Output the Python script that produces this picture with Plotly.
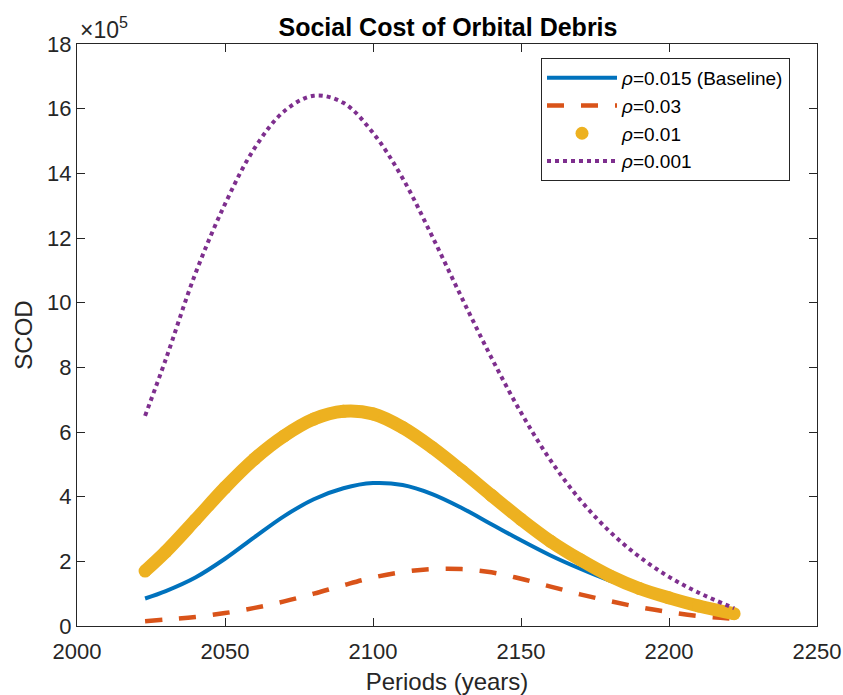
import plotly.graph_objects as go

years = [2023, 2030, 2040, 2050, 2060, 2070, 2080, 2090, 2100, 2110, 2120,
         2130, 2140, 2150, 2160, 2170, 2180, 2190, 2200, 2210, 2222]

# values in units of 1e5
rho_015 = [0.85, 1.08, 1.50, 2.08, 2.75, 3.40, 3.92, 4.26, 4.42, 4.36, 4.08,
           3.65, 3.15, 2.65, 2.18, 1.77, 1.40, 1.08, 0.82, 0.58, 0.34]
rho_03 = [0.15, 0.20, 0.28, 0.40, 0.56, 0.76, 1.00, 1.26, 1.50, 1.67, 1.76,
          1.76, 1.66, 1.46, 1.22, 0.98, 0.77, 0.58, 0.43, 0.31, 0.22]
rho_01 = [1.70, 2.30, 3.28, 4.28, 5.17, 5.88, 6.40, 6.64, 6.56, 6.14, 5.52,
          4.80, 4.04, 3.30, 2.62, 2.05, 1.55, 1.16, 0.87, 0.62, 0.38]
rho_001 = [6.50, 8.25, 10.90, 13.05, 14.78, 15.92, 16.40, 16.18, 15.25, 13.85, 12.05,
           10.15, 8.30, 6.60, 5.12, 3.90, 2.92, 2.14, 1.52, 1.03, 0.55]

SCALE = 1e5
ytick_labels = ["0", "2", "4", "6", "8", "10", "12", "14", "16", "18"]
xticks = [2000, 2050, 2100, 2150, 2200, 2250]

names = ["<i>ρ</i>=0.015 (Baseline)", "<i>ρ</i>=0.03", "<i>ρ</i>=0.01", "<i>ρ</i>=0.001"]
colors = ["#0072BD", "#D95319", "#EDB120", "#7E2F8E"]

def sc(v):
    return [x * SCALE for x in v]

fig = go.Figure()
fig.add_trace(go.Scatter(x=years, y=sc(rho_015), mode="lines", name=names[0],
                         line=dict(color=colors[0], width=4, shape="spline")))
fig.add_trace(go.Scatter(x=years, y=sc(rho_03), mode="lines", name=names[1],
                         line=dict(color=colors[1], width=4.5, shape="spline", dash="17px,17px")))
fig.add_trace(go.Scatter(x=years, y=sc(rho_01), mode="lines+markers", name=names[2],
                         showlegend=False,
                         line=dict(color=colors[2], width=13, shape="spline"),
                         marker=dict(color=colors[2], size=13)))
fig.add_trace(go.Scatter(x=[None], y=[None], mode="markers", name=names[2],
                         marker=dict(color=colors[2], size=13)))
fig.add_trace(go.Scatter(x=years, y=sc(rho_001), mode="lines", name=names[3],
                         line=dict(color=colors[3], width=4, shape="spline", dash="dot")))

W, H = 843, 695
axis_color = "#262626"
fig.update_layout(
    width=W, height=H,
    margin=dict(l=77, r=26, t=44, b=69),
    paper_bgcolor="white", plot_bgcolor="white",
    font=dict(family="Liberation Sans, Arial, sans-serif", color=axis_color, size=22),
    title=dict(text="<b>Social Cost of Orbital Debris</b>", x=448 / W, xanchor="center",
               y=1 - 36 / H, yanchor="bottom", yref="container",
               font=dict(size=25, color="#000000")),
    xaxis=dict(range=[2000, 2250], tickvals=xticks, ticks="inside", ticklen=8,
               tickcolor=axis_color, showline=True, linecolor=axis_color, linewidth=1,
               mirror="ticks", showgrid=False, zeroline=False, automargin=False,
               tickfont=dict(size=22), ticklabelstandoff=6,
               title=dict(text="Periods (years)", font=dict(size=24), standoff=11)),
    yaxis=dict(range=[0, 18 * SCALE], tickvals=[i * 2 * SCALE for i in range(10)],
               ticktext=ytick_labels, ticks="inside", ticklen=8,
               tickcolor=axis_color, showline=True, linecolor=axis_color, linewidth=1,
               mirror="ticks", showgrid=False, zeroline=False, automargin=False,
               tickfont=dict(size=22),
               title=dict(text="SCOD", font=dict(size=24), standoff=7)),
    legend=dict(x=(541 - 77) / 740, y=(626 - 58) / 582, xanchor="left", yanchor="top",
                bgcolor="white", bordercolor="#262626", borderwidth=1,
                font=dict(size=19, color="#000000"), itemwidth=70,
                tracegroupgap=0),
    showlegend=True,
)

fig.add_annotation(text="×10<sup>5</sup>", xref="paper", yref="paper", x=0, y=1,
                   xanchor="left", yanchor="bottom", showarrow=False,
                   font=dict(size=23, color=axis_color), xshift=1, yshift=-1)

# remove the default 8px page margin so the 843x695 figure fills the window exactly
fig.write_html("out.html", config={"displayModeBar": False},
               post_script="document.body.style.margin='0';document.body.style.overflow='hidden';")
